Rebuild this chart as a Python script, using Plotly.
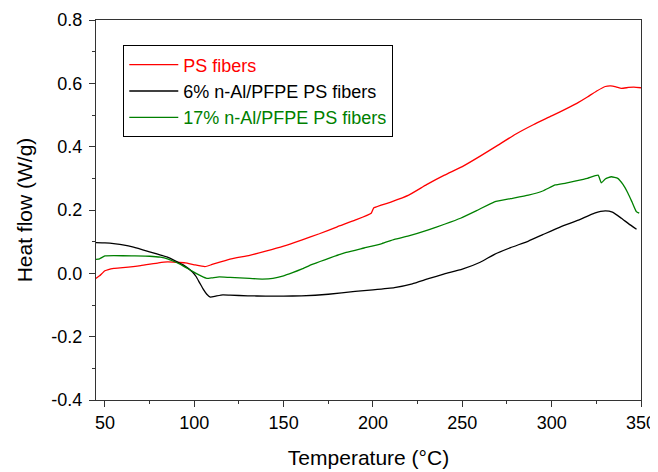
import plotly.graph_objects as go

# ---- data ----
ps_temp = [45, 47, 50, 55, 60, 70, 80, 85, 90, 95, 100, 106, 110, 120, 131, 140, 150, 160, 170, 180, 190, 199, 200.5,
           210, 220, 230, 240, 250, 260, 270, 280, 290, 300, 310, 315, 320, 325, 330, 333, 336, 339, 343, 346, 350]
ps_flow = [-0.016, -0.008, 0.008, 0.016, 0.018, 0.024, 0.033, 0.036, 0.035, 0.033, 0.027, 0.021, 0.028, 0.045, 0.057,
           0.07, 0.086, 0.105, 0.125, 0.147, 0.168, 0.19, 0.207, 0.225, 0.247, 0.28, 0.31, 0.337, 0.37, 0.405, 0.44,
           0.47, 0.497, 0.525, 0.54, 0.557, 0.575, 0.59, 0.592, 0.589, 0.584, 0.587, 0.588, 0.586]

al6_temp = [45, 50, 56, 60, 66, 75, 85, 94, 99, 101, 103, 105, 107, 109, 112, 116, 120, 130, 140, 150, 160, 175, 190,
            200, 212, 222, 231, 240, 250, 260, 268, 277, 287, 295, 305, 315, 324, 330, 334, 339, 343, 347.5]
al6_flow = [0.097, 0.096, 0.093, 0.09, 0.083, 0.068, 0.051, 0.026, 0.004, -0.01, -0.03, -0.05, -0.066, -0.075, -0.072,
            -0.068, -0.069, -0.071, -0.072, -0.072, -0.071, -0.066, -0.057, -0.052, -0.045, -0.033, -0.017, -0.002,
            0.013, 0.035, 0.06, 0.081, 0.102, 0.122, 0.147, 0.168, 0.19, 0.197, 0.193, 0.174, 0.157, 0.139]

al17_temp = [45, 47, 50, 55, 65, 75, 81, 85, 88, 92, 96, 101, 104, 107, 110, 114, 120, 131, 138, 144, 150, 155, 160,
             166, 176, 185, 195, 205, 212, 220, 231, 240, 249, 258, 268, 277, 287, 295, 302, 308, 313, 320, 326,
             327.8, 330, 333.4, 337, 340, 342.7, 345, 347.4, 349]
al17_flow = [0.044, 0.046, 0.055, 0.056, 0.055, 0.054, 0.051, 0.046, 0.039, 0.029, 0.016, 0.0, -0.009, -0.016, -0.014,
             -0.011, -0.013, -0.016, -0.018, -0.016, -0.008, 0.002, 0.013, 0.028, 0.049, 0.066, 0.08, 0.094, 0.107,
             0.118, 0.137, 0.155, 0.174, 0.198, 0.226, 0.236, 0.247, 0.26, 0.279, 0.285, 0.291, 0.3, 0.31, 0.286,
             0.298, 0.305, 0.3, 0.28, 0.253, 0.225, 0.195, 0.19]

series_names = ["PS fibers", "6% n-Al/PFPE PS fibers", "17% n-Al/PFPE PS fibers"]
series_colors = ["#ff0000", "#000000", "#008000"]

x_ticks = [50, 100, 150, 200, 250, 300, 350]
y_ticks = [-0.4, -0.2, 0.0, 0.2, 0.4, 0.6, 0.8]
y_tick_labels = ["-0.4", "-0.2", "0.0", "0.2", "0.4", "0.6", "0.8"]

FONT = "Arial, 'Liberation Sans', sans-serif"

fig = go.Figure()
for xs, ys, name, col in zip([ps_temp, al6_temp, al17_temp], [ps_flow, al6_flow, al17_flow], series_names, series_colors):
    fig.add_trace(go.Scatter(
        x=xs, y=ys, mode="lines", line=dict(color=col, width=1.3, shape="spline", smoothing=0.4),
        name=f'<span style="color:{col}">{name}</span>',
    ))

axis_common = dict(
    showline=True, linecolor="#333333", linewidth=1.3, mirror=True,
    ticks="outside", ticklen=6, tickwidth=1.2, tickcolor="#333333",
    showgrid=False, zeroline=False,
    tickfont=dict(family=FONT, size=18, color="#000000"),
)

fig.update_xaxes(
    range=[45, 350], tickvals=x_ticks,
    minor=dict(ticks="outside", ticklen=3, tickwidth=1, tickcolor="#333333", dtick=25, tick0=0),
    title=dict(text="Temperature (°C)", font=dict(family=FONT, size=21, color="#000000"), standoff=18),
    automargin=False, **axis_common,
)
fig.update_yaxes(
    range=[-0.4, 0.8], tickvals=y_ticks, ticktext=y_tick_labels,
    minor=dict(ticks="outside", ticklen=3, tickwidth=1, tickcolor="#333333", dtick=0.1, tick0=0),
    title=dict(text="Heat flow (W/g)", font=dict(family=FONT, size=21, color="#000000"), standoff=12),
    ticklabelstandoff=3,
    automargin=False, **axis_common,
)

# page body adds an 8px margin; the figure is sized so the plot area lands where the reference has it
fig.update_layout(
    width=650, height=464,
    margin=dict(l=88, r=17, t=12, b=72),
    paper_bgcolor="white", plot_bgcolor="white",
    font=dict(family=FONT, size=18, color="#000000"),
    showlegend=True,
    legend=dict(
        x=0.0495, y=0.934, xanchor="left", yanchor="top",
        bordercolor="#000000", borderwidth=1.3, bgcolor="white",
        font=dict(family=FONT, size=18), itemwidth=49, tracegroupgap=0,
    ),
)

fig.write_html("out.html")
